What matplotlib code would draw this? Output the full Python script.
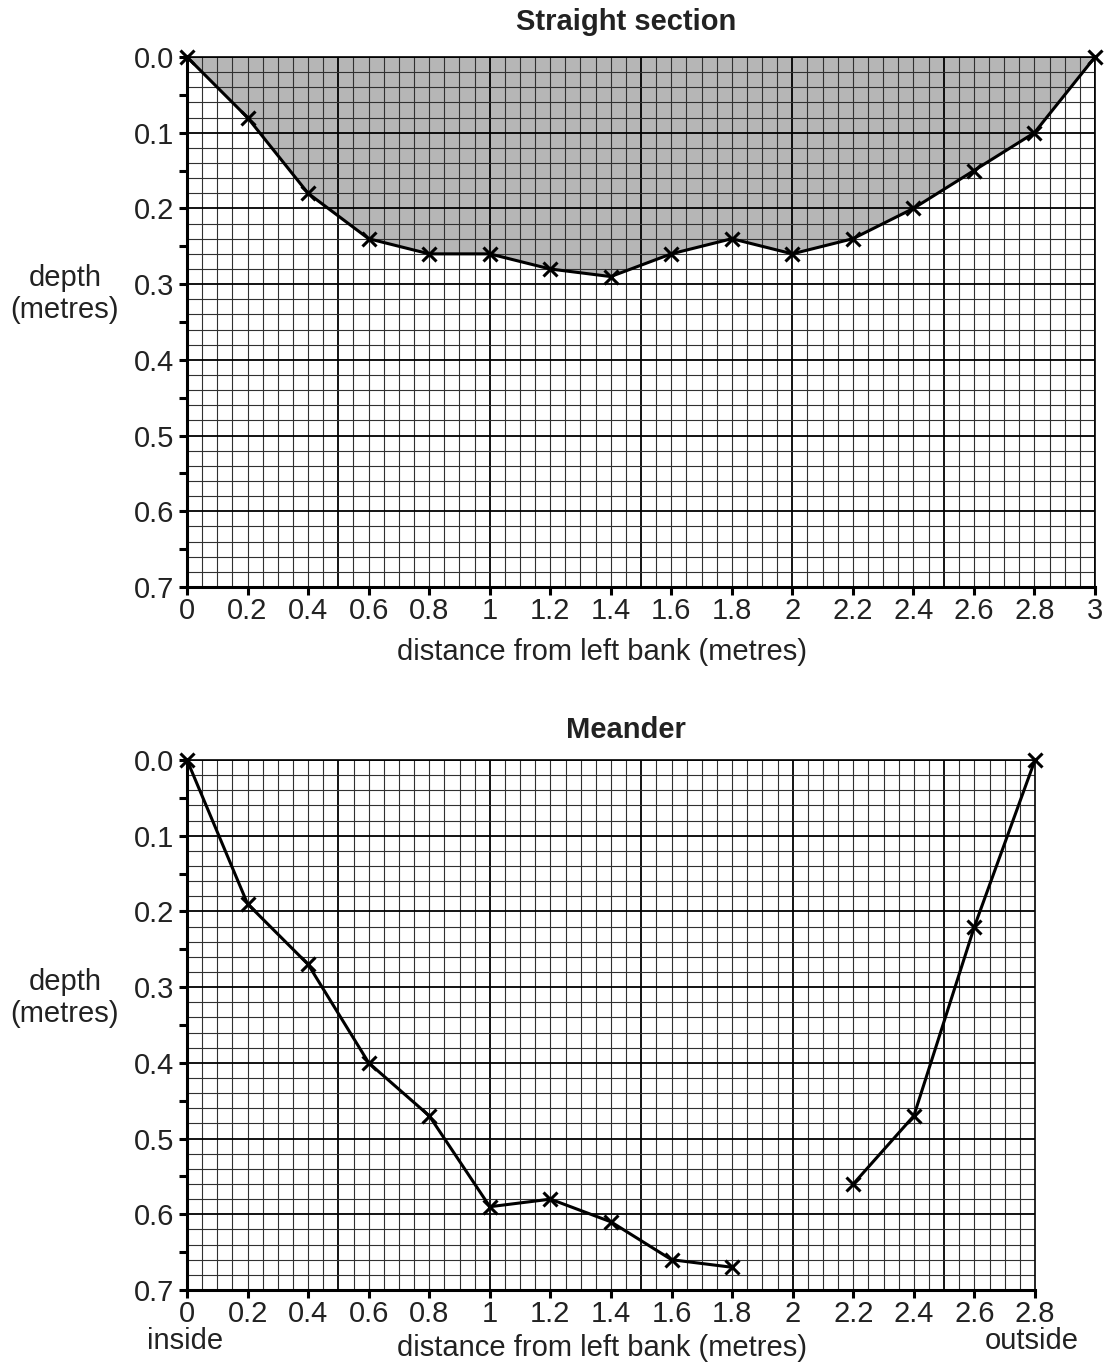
import numpy as np
import matplotlib
matplotlib.use("Agg")
import matplotlib.pyplot as plt

plt.rcParams["font.family"] = ["Liberation Sans", "DejaVu Sans"]

# straight section profile
straight_x = [0, 0.2, 0.4, 0.6, 0.8, 1.0, 1.2, 1.4, 1.6, 1.8, 2.0, 2.2, 2.4, 2.6, 2.8, 3.0]
straight_depth = [0, 0.08, 0.18, 0.24, 0.26, 0.26, 0.28, 0.29, 0.26, 0.24, 0.26, 0.24, 0.20, 0.15, 0.10, 0]

# meander profile (no reading at 2.0 m)
meander_x = [0, 0.2, 0.4, 0.6, 0.8, 1.0, 1.2, 1.4, 1.6, 1.8, 2.0, 2.2, 2.4, 2.6, 2.8]
meander_depth = [0, 0.19, 0.27, 0.40, 0.47, 0.59, 0.58, 0.61, 0.66, 0.67, np.nan, 0.56, 0.47, 0.22, 0]

straight_ticks = [0, 0.2, 0.4, 0.6, 0.8, 1, 1.2, 1.4, 1.6, 1.8, 2, 2.2, 2.4, 2.6, 2.8, 3]
meander_ticks = [0, 0.2, 0.4, 0.6, 0.8, 1, 1.2, 1.4, 1.6, 1.8, 2, 2.2, 2.4, 2.6, 2.8]
depth_ticks = [0.0, 0.1, 0.2, 0.3, 0.4, 0.5, 0.6, 0.7]

W, H = 1108, 1370
FS = 21


def tick_fmt(v):
    if abs(v - round(v)) < 1e-9:
        return str(int(round(v)))
    return f"{v:g}"


def setup(ax, xmax, xticks):
    ax.set_xlim(0, xmax)
    ax.set_ylim(0.7, 0.0)
    # graph paper grid
    for x in np.arange(0, xmax + 1e-9, 0.05):
        major = abs(x / 0.5 - round(x / 0.5)) < 1e-6
        ax.axvline(x, color="black" if major else "#303030",
                   lw=1.3 if major else 0.8, zorder=1)
    for y in np.arange(0, 0.7 + 1e-9, 0.02):
        major = abs(y / 0.1 - round(y / 0.1)) < 1e-6
        ax.axhline(y, color="black" if major else "#303030",
                   lw=1.3 if major else 0.8, zorder=1)
    ax.set_xticks(xticks)
    ax.set_xticklabels([tick_fmt(v) for v in xticks], fontsize=FS)
    ax.set_yticks(depth_ticks)
    ax.set_yticklabels([f"{v:.1f}" for v in depth_ticks], fontsize=FS)
    ax.set_yticks(np.arange(0.05, 0.7, 0.1), minor=True)
    ax.tick_params(axis="both", which="both", direction="out", length=6,
                   width=2.2, color="black", pad=3, labelcolor="#222222")
    ax.tick_params(axis="x", pad=1)
    ax.spines["left"].set_linewidth(2.2)
    ax.spines["bottom"].set_linewidth(2.2)
    ax.spines["top"].set_linewidth(1.2)
    ax.spines["right"].set_linewidth(1.2)
    for s in ax.spines.values():
        s.set_zorder(4)


fig = plt.figure(figsize=(W / 100, H / 100), dpi=100)

ax1 = fig.add_axes([187 / W, 1 - 587 / H, 908 / W, 530 / H])
setup(ax1, 3.0, straight_ticks)
ax1.fill_between(straight_x, 0, straight_depth, color="#b6b6b6", lw=0, zorder=0.5)
ax1.plot(straight_x, straight_depth, color="black", lw=2.2, marker="x",
         ms=10, mew=2.2, zorder=5, clip_on=False)

ax2 = fig.add_axes([187 / W, 1 - 1290 / H, 848 / W, 530 / H])
setup(ax2, 2.8, meander_ticks)
ax2.plot(meander_x, meander_depth, color="black", lw=2.2, marker="x",
         ms=10, mew=2.2, zorder=5, clip_on=False)

tc = "#222222"
fig.text(626 / W, 1 - 22 / H, "Straight section", ha="center", va="center",
         fontsize=FS, fontweight="bold", color=tc)
fig.text(626 / W, 1 - 730 / H, "Meander", ha="center", va="center",
         fontsize=FS, fontweight="bold", color=tc)
fig.text(602 / W, 1 - 652 / H, "distance from left bank (metres)", ha="center",
         va="center", fontsize=FS, color=tc)
fig.text(602 / W, 1 - 1348 / H, "distance from left bank (metres)", ha="center",
         va="center", fontsize=FS, color=tc)
fig.text(65 / W, 1 - 294 / H, "depth\n(metres)", ha="center", va="center",
         fontsize=FS, color=tc, linespacing=1.15)
fig.text(65 / W, 1 - 998 / H, "depth\n(metres)", ha="center", va="center",
         fontsize=FS, color=tc, linespacing=1.15)
fig.text(185 / W, 1 - 1341 / H, "inside", ha="center", va="center",
         fontsize=FS, color=tc)
fig.text(1032 / W, 1 - 1341 / H, "outside", ha="center", va="center",
         fontsize=FS, color=tc)

fig.savefig("out.png", dpi=100)
